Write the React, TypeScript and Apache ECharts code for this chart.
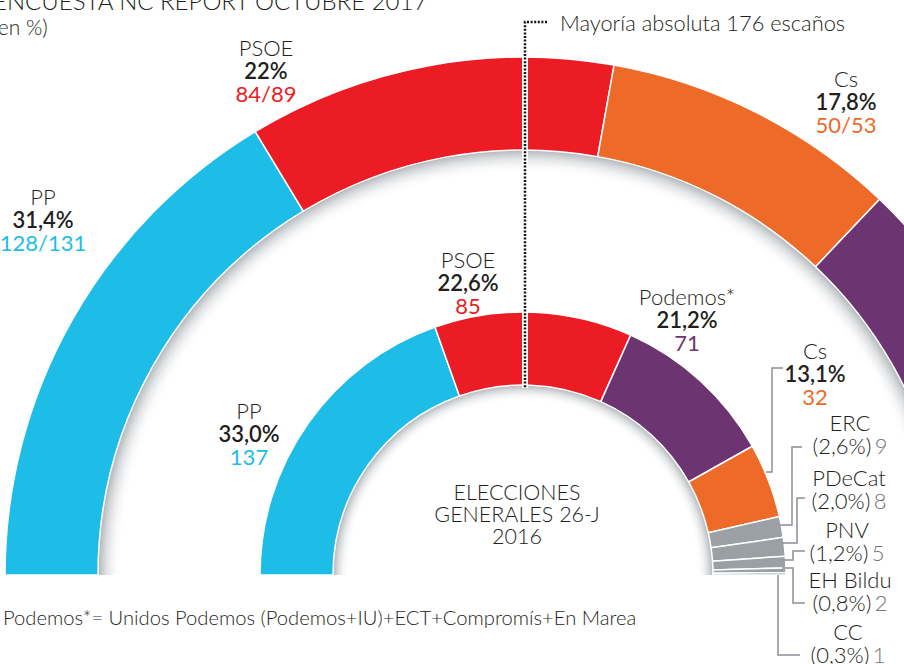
import React, { useEffect, useRef } from 'react';
import * as echarts from 'echarts';

// ---- data ----
const innerNames = ['PP', 'PSOE', 'Podemos*', 'Cs', 'ERC', 'PDeCat', 'PNV', 'EH Bildu', 'CC'];
const innerSeats = [137, 85, 71, 32, 9, 8, 5, 2, 1];
const innerPctText = ['33,0%', '22,6%', '21,2%', '13,1%', '2,6%', '2,0%', '1,2%', '0,8%', '0,3%'];

const outerNames = ['PP', 'PSOE', 'Cs', 'Podemos*', 'Otros'];
const outerPct = [31.4, 22, 17.8, 18, 6.8];
const outerPctText = ['31,4%', '22%', '17,8%'];
const outerSeatRange = ['128/131', '84/89', '50/53'];

const titleLines = ['ENCUESTA NC REPORT OCTUBRE 2017', '(en %)'];
const majorityText = 'Mayoría absoluta 176 escaños';
const centerText = ['ELECCIONES', 'GENERALES 26-J', '2016'];
const footnote = 'Podemos*= Unidos Podemos (Podemos+IU)+ECT+Compromís+En Marea';

// ---- styles / layout ----
const partyColor: Record<string, string> = {
  PP: '#1ebde8',
  PSOE: '#ec1c24',
  Cs: '#ee6a28',
  'Podemos*': '#6c3470',
  ERC: '#9aa0a4',
  PDeCat: '#9aa0a4',
  PNV: '#9aa0a4',
  'EH Bildu': '#9aa0a4',
  CC: '#9aa0a4',
  Otros: '#9aa0a4',
};
const numColor: Record<string, string> = {
  PP: '#1ebde8',
  PSOE: '#ec1c24',
  Cs: '#ee6a28',
  'Podemos*': '#6c3470',
};
const FONT = 'Lato, "Open Sans", sans-serif';
const DARK = '#231f20';
const GREYNUM = '#6d767b';
const CX = 523;
const CY = 575;

const outerLabelPos = [[43, 219], [266, 70], [846, 101]];
const innerLabelPos = [[249, 433], [468, 282], [687, 319], [815, 373], [850, 434], [849, 489], [847, 541], [850, 591], [848, 643]];
const leaderLines = [
  null, null, null,
  [[783, 368], [772, 368], [772, 472], [766, 472]],
  [[802, 447], [792, 447], [792, 525], [780, 525]],
  [[805, 498], [797, 498], [797, 543], [782, 543]],
  [[805, 551], [793, 551], [793, 560], [783, 560]],
  [[782, 568], [793, 568], [793, 603], [805, 603]],
  [[778, 575], [778, 655], [800, 655]],
];

const rich = {
  n: { fontFamily: FONT, fontSize: 22, fontWeight: 300, fill: DARK, lineHeight: 23, align: 'center' },
  p: { fontFamily: FONT, fontSize: 22, fontWeight: 600, fill: DARK, lineHeight: 23, align: 'center' },
  g: { fontFamily: FONT, fontSize: 22, fontWeight: 300, fill: DARK, lineHeight: 23 },
  v: { fontFamily: FONT, fontSize: 22, fontWeight: 300, fill: GREYNUM, lineHeight: 23 },
} as any;

function shadowGrad(r0: number, r1: number) {
  return {
    type: 'radial', x: CX, y: CY, r: r1, global: true,
    colorStops: [
      { offset: 0, color: 'rgba(255,255,255,0)' },
      { offset: r0 / r1, color: 'rgba(255,255,255,0)' },
      { offset: 1, color: 'rgba(150,156,162,0.75)' },
    ],
  };
}

export default function App() {
  const ref = useRef<HTMLDivElement>(null);
  useEffect(() => {
    if (!ref.current) return;
    const chart = echarts.init(ref.current, null, { renderer: 'svg', width: 904, height: 664 });

    const graphics: any[] = [];
    // title
    graphics.push({ type: 'text', x: -7, y: 0, z: 100, style: { text: titleLines[0], font: `300 24px ${FONT}`, fill: DARK, verticalAlign: 'middle' } });
    graphics.push({ type: 'text', x: -7, y: 26, z: 100, style: { text: titleLines[1], font: `300 21px ${FONT}`, fill: DARK, verticalAlign: 'middle' } });
    // majority line
    graphics.push({ type: 'polyline', z: 100, shape: { points: [[525, 22], [525, 388]] }, style: { stroke: '#fff', lineWidth: 6, fill: null } });
    graphics.push({ type: 'polyline', z: 101, shape: { points: [[547, 22], [525, 22], [525, 388]] }, style: { stroke: '#111', lineWidth: 2.5, lineDash: [2, 1.6], fill: null } });
    graphics.push({ type: 'text', x: 560, y: 22, z: 100, style: { text: majorityText, font: `300 21.8px ${FONT}`, fill: DARK, verticalAlign: 'middle' } });

    // outer labels
    outerPctText.forEach((p, i) => {
      const name = outerNames[i];
      graphics.push({
        type: 'text', x: outerLabelPos[i][0], y: outerLabelPos[i][1], z: 100,
        style: {
          text: `{n|${name}}\n{p|${p}}\n{s|${outerSeatRange[i]}}`,
          align: 'center', verticalAlign: 'middle',
          rich: { ...rich, s: { fontFamily: FONT, fontSize: 22, fontWeight: 400, fill: numColor[name], lineHeight: 23, align: 'center' } },
        },
      });
    });
    // inner labels
    innerNames.forEach((name, i) => {
      const [x, y] = innerLabelPos[i];
      let text: string;
      let r: any = rich;
      if (i < 4) {
        text = `{n|${name}}\n{p|${innerPctText[i]}}\n{s|${innerSeats[i]}}`;
        r = { ...rich, s: { fontFamily: FONT, fontSize: 22, fontWeight: 400, fill: numColor[name], lineHeight: 23, align: 'center' } };
      } else {
        text = `{n|${name}}\n{g|(${innerPctText[i]})} {v|${innerSeats[i]}}`;
      }
      graphics.push({ type: 'text', x, y, z: 100, style: { text, align: 'center', verticalAlign: 'middle', rich: r } });
      const ll = leaderLines[i];
      if (ll) graphics.push({ type: 'polyline', z: 100, shape: { points: ll }, style: { stroke: '#8a9095', lineWidth: 1.5, fill: null } });
    });
    // center text
    graphics.push({
      type: 'text', x: 517, y: 514, z: 100,
      style: { text: centerText.join('\n'), font: `300 21.5px ${FONT}`, fill: DARK, align: 'center', verticalAlign: 'middle', lineHeight: 22 },
    });
    // footnote
    graphics.push({ type: 'text', x: 3, y: 617, z: 100, style: { text: footnote, font: `300 20.2px ${FONT}`, fill: DARK, verticalAlign: 'middle' } });

    const baseRing = {
      type: 'pie', center: [CX, CY], startAngle: 180, endAngle: 0, clockwise: true, silent: true,
      label: { show: false }, labelLine: { show: false }, emphasis: { disabled: true },
    };

    chart.setOption({
      animation: false,
      backgroundColor: '#fff',
      series: [
        { ...baseRing, radius: [402, 425], z: 1, itemStyle: { color: shadowGrad(402, 425), borderWidth: 0 }, data: [{ name: 'sombra1', value: 1 }] },
        { ...baseRing, radius: [174, 190], z: 1, itemStyle: { color: shadowGrad(174, 190), borderWidth: 0 }, data: [{ name: 'sombra2', value: 1 }] },
        {
          ...baseRing, radius: [425, 518], z: 2,
          itemStyle: { borderColor: '#fff', borderWidth: 1.5 },
          data: outerNames.map((n, i) => ({ name: n, value: outerPct[i], itemStyle: { color: partyColor[n] } })),
        },
        {
          ...baseRing, radius: [190, 263], z: 2,
          itemStyle: { borderColor: '#fff', borderWidth: 1.5 },
          data: innerNames.map((n, i) => ({ name: n, value: innerSeats[i], itemStyle: { color: partyColor[n] } })),
        },
      ],
      graphic: graphics,
    });
    return () => chart.dispose();
  }, []);
  return <div ref={ref} style={{ position: 'absolute', left: 0, top: 0, width: 904, height: 664, overflow: 'hidden', background: '#fff' }} />;
}
